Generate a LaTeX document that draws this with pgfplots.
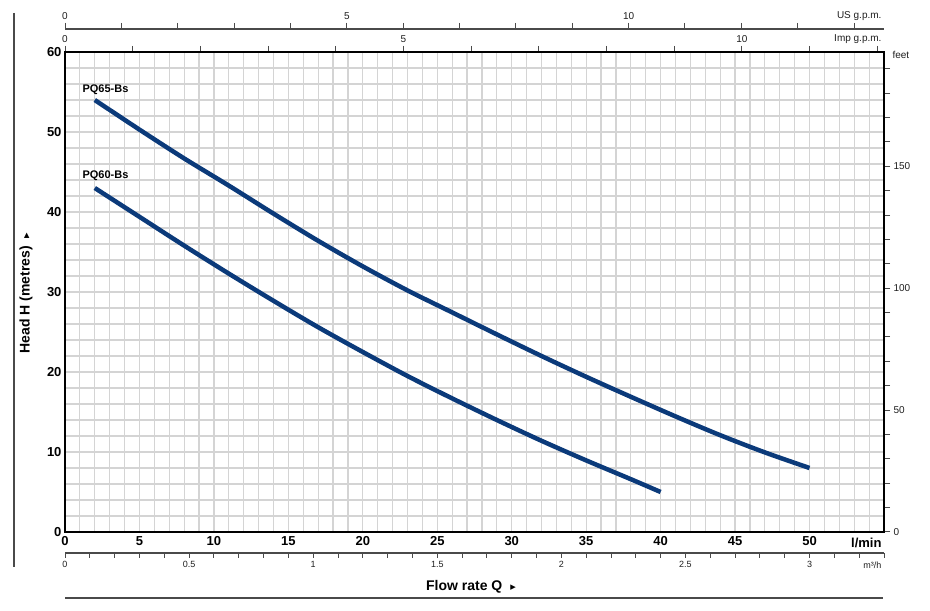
\documentclass[border=0pt]{standalone}
\usepackage{pgfplots}
\pgfplotsset{compat=1.18}
\usepackage{fontspec}
\setmainfont{Liberation Sans}
\newfontfamily\symfont{DejaVu Sans}
\definecolor{curve}{HTML}{0B3A7A}
\definecolor{gridc}{HTML}{D4D4D4}
\definecolor{ink}{HTML}{1E1E1E}
\definecolor{scalec}{HTML}{4A4A4A}

\pgfplotsset{
  /pgf/number format/assume math mode=true,
  every axis/.append style={scale only axis, width=819pt},
  small scale/.style={
    axis line style={-, line width=1.3pt, scalec},
    tick align=outside,
    major tick length=6pt, minor tick length=6pt,
    every tick/.style={line width=1pt, scalec},
    ticklabel style={font=\fontsize{10}{12}\selectfont, text=ink},
  },
}

\begin{document}
\begin{tikzpicture}
\useasboundingbox (0pt,0pt) rectangle (930pt,611pt);
\coordinate (mainSW) at (65pt,79pt);
\coordinate (usNW) at (65pt,582pt);
\coordinate (m3SW) at (65pt,58pt);

% main chart, l/min against metres
\begin{axis}[
  at={(mainSW)}, anchor=south west, height=480pt,
  xmin=0, xmax=55, ymin=0, ymax=60,
  xtick={0,5,...,50}, ytick={0,10,...,60},
  minor xtick={0,1,...,55}, minor ytick={0,2,...,60},
  grid=both,
  major grid style={gridc, line width=1.2pt},
  minor grid style={gridc, line width=1.2pt},
  major tick length=0pt, minor tick length=0pt,
  axis line style={line width=1.8pt, black},
  ticklabel style={font=\fontsize{13}{15}\selectfont\bfseries, text=black},
  xticklabel style={yshift=-1pt},
]
% PQ65-Bs
\addplot[curve, line width=4.5pt, smooth] coordinates {
  (2,54) (5,50.3) (8,46.7) (11,43.3) (14,39.8) (17,36.4) (20,33.2)
  (23,30.2) (26,27.45) (29,24.7) (32,22.0) (35,19.4) (38,16.9)
  (41,14.45) (44,12.1) (47,9.95) (50,8)
};
% PQ60-Bs
\addplot[curve, line width=4.5pt, smooth] coordinates {
  (2,43) (5,39.4) (8,35.8) (11,32.3) (14,28.9) (17,25.6) (20,22.5)
  (23,19.5) (26,16.7) (29,14.0) (32,11.4) (35,8.95) (38,6.6) (40,5)
};
\end{axis}

% Imp g.p.m. on top, feet on the right
\begin{axis}[
  small scale,
  at={(mainSW)}, anchor=south west, height=480pt,
  xmin=0, xmax=12.0986, ymin=0, ymax=196.85,
  axis x line*=top, axis y line*=right,
  axis line style={-, line width=1.8pt, black},
  xtick={0,5,10}, minor xtick={0,1,...,12},
  ytick={0,50,100,150}, minor ytick={0,10,...,190},
]
\end{axis}

% US g.p.m.
\begin{axis}[
  small scale,
  at={(usNW)}, anchor=north west, height=10pt,
  xmin=0, xmax=14.531, ymin=0, ymax=1,
  axis x line*=top, axis y line=none, ytick=\empty,
  xtick={0,5,10}, minor xtick={0,1,...,14},
]
\end{axis}

% m3/h
\begin{axis}[
  small scale,
  at={(m3SW)}, anchor=south west, height=10pt,
  xmin=0, xmax=3.3, ymin=0, ymax=1,
  axis x line*=bottom, axis y line=none, ytick=\empty,
  major tick length=5pt, minor tick length=5pt,
  xtick={0,0.5,...,3}, minor xtick={0,0.1,...,3.3},
  ticklabel style={font=\fontsize{9}{11}\selectfont, text=ink},
]
\end{axis}

% units and titles
\node[anchor=east, font=\fontsize{10}{12}\selectfont, text=ink] at (885pt,595pt) {US g.p.m.};
\node[anchor=east, font=\fontsize{10}{12}\selectfont, text=ink] at (885pt,572pt) {Imp g.p.m.};
\node[anchor=west, font=\fontsize{10}{12}\selectfont, text=ink] at (889pt,556pt) {feet};
\node[anchor=east, font=\fontsize{13}{15}\selectfont\bfseries] at (885pt,68pt) {l/min};
\node[anchor=east, font=\fontsize{9}{11}\selectfont, text=ink] at (885pt,46pt) {m³/h};

\node[anchor=west, font=\fontsize{11}{13}\selectfont\bfseries] at (79pt,521pt) {PQ65-Bs};
\node[anchor=west, font=\fontsize{11}{13}\selectfont\bfseries] at (79pt,435pt) {PQ60-Bs};

\node[font=\fontsize{14}{16}\selectfont\bfseries] at (471pt,24pt)
  {Flow rate Q\hspace{8pt}{\symfont\fontsize{11}{13}\selectfont ▸}};
\node[rotate=90, font=\fontsize{14}{16}\selectfont\bfseries] at (26pt,318pt)
  {Head H (metres)\hspace{8pt}{\symfont\fontsize{11}{13}\selectfont ▸}};

\draw[line width=1.3pt, scalec] (65pt,13pt) -- (883pt,13pt);
\draw[line width=1.3pt, scalec] (14pt,598pt) -- (14pt,44pt);
\end{tikzpicture}
\end{document}
